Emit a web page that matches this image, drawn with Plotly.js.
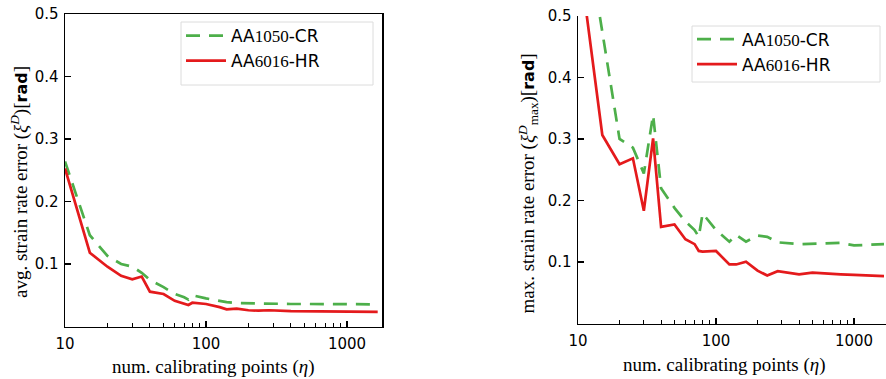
<!DOCTYPE html>
<html>
<head>
<meta charset="utf-8">
<script src="https://cdn.plot.ly/plotly-3.0.1.min.js"></script>
<style>html,body{margin:0;padding:0;background:#fff;}#chart{width:886px;height:379px;}</style>
</head>
<body>
<div id="chart"></div>
<script>
// ---- data ----
const eta = [10, 15, 20, 25, 30, 35, 40, 50, 60, 70, 75, 80, 100, 125, 140, 165, 200, 235, 280, 400, 500, 700, 800, 1000, 1200, 1650];

const avgAA1050 = [0.264, 0.146, 0.113, 0.100, 0.0957, 0.086, 0.0744, 0.063, 0.052, 0.0467, 0.043, 0.050, 0.045, 0.041, 0.039, 0.0375, 0.037, 0.0365, 0.0365, 0.036, 0.036, 0.036, 0.036, 0.0355, 0.0355, 0.0355];
const avgAA6016 = [0.253, 0.118, 0.0957, 0.081, 0.0755, 0.080, 0.0557, 0.052, 0.041, 0.036, 0.0344, 0.038, 0.036, 0.031, 0.0275, 0.0285, 0.026, 0.0253, 0.026, 0.0245, 0.0245, 0.024, 0.024, 0.0238, 0.0237, 0.0235];

const maxAA1050 = [0.72, 0.47, 0.30, 0.286, 0.244, 0.339, 0.22, 0.188, 0.166, 0.152, 0.141, 0.179, 0.152, 0.133, 0.144, 0.133, 0.143, 0.141, 0.132, 0.129, 0.130, 0.131, 0.131, 0.127, 0.128, 0.129];
const maxAA6016 = [0.61, 0.3065, 0.259, 0.2686, 0.1834, 0.301, 0.157, 0.161, 0.137, 0.129, 0.118, 0.117, 0.118, 0.096, 0.096, 0.1005, 0.086, 0.078, 0.085, 0.080, 0.0826, 0.0816, 0.080, 0.079, 0.0785, 0.077];

const seriesNames = ["AA<span style=\"font-family:Liberation Serif\">1050</span>-CR",
                     "AA<span style=\"font-family:Liberation Serif\">6016</span>-HR"];
const xTickVals = [10, 100, 1000];
const xTickText = ["10", "100", "1000"];
const xMinorVals = [20,30,40,50,60,70,80,90,200,300,400,500,600,700,800,900,2000];
const yTickVals = [0.1, 0.2, 0.3, 0.4, 0.5];
const yTickText = ["0.1", "0.2", "0.3", "0.4", "0.5"];

const xTitle = "num. calibrating points (<i>η</i>)";
const yTitleLeft = "avg. strain rate error (<i>ξ</i><sup><i>D</i></sup>)[<span style=\"font-family:DejaVu Sans;font-weight:bold;font-size:16px\">rad</span>]";
const yTitleRight = "max. strain rate error (<i>ξ</i><sup><i>D</i></sup><sub>max</sub>)[<span style=\"font-family:DejaVu Sans;font-weight:bold;font-size:16px\">rad</span>]";

// ---- styling ----
const GREEN = "#4daf4a", RED = "#e41a1c";
const W = 886, H = 379;
const px = v => v / W;           // pixel -> paper x
const py = v => (H - v) / H;     // pixel -> paper y

const greenLine = {color: GREEN, width: 2.7, dash: "14px,9px"};
const redLine = {color: RED, width: 2.7};

const traces = [
  {x: eta, y: avgAA1050, type: "scatter", mode: "lines", name: seriesNames[0], line: greenLine, xaxis: "x", yaxis: "y", legend: "legend"},
  {x: eta, y: avgAA6016, type: "scatter", mode: "lines", name: seriesNames[1], line: redLine, xaxis: "x", yaxis: "y", legend: "legend"},
  {x: eta, y: maxAA1050, type: "scatter", mode: "lines", name: seriesNames[0], line: greenLine, xaxis: "x2", yaxis: "y2", legend: "legend2"},
  {x: eta, y: maxAA6016, type: "scatter", mode: "lines", name: seriesNames[1], line: redLine, xaxis: "x2", yaxis: "y2", legend: "legend2"}
];

const tickFont = {family: "DejaVu Sans", size: 15, color: "#000"};
function xAxis(domain, range, anchor, mirror) {
  return {
    type: "log", domain: domain, range: range, anchor: anchor,
    showline: true, linecolor: "#000", linewidth: 1.5, mirror: mirror,
    showgrid: false, zeroline: false,
    ticks: "inside", ticklen: 6, tickwidth: 1.2, tickcolor: "#000",
    tickmode: "array", tickvals: xTickVals, ticktext: xTickText,
    tickfont: tickFont, ticklabelstandoff: 3,
    minor: {ticks: "inside", ticklen: 3.5, tickwidth: 1, tickcolor: "#000", tickmode: "array", tickvals: xMinorVals, showgrid: false}
  };
}
function yAxis(domain, anchor, mirror) {
  return {
    domain: domain, range: [0, 0.5], anchor: anchor,
    showline: true, linecolor: "#000", linewidth: 1.5, mirror: mirror,
    showgrid: false, zeroline: false,
    ticks: "inside", ticklen: 6, tickwidth: 1.2, tickcolor: "#000",
    tickmode: "array", tickvals: yTickVals, ticktext: yTickText,
    tickfont: tickFont, ticklabelstandoff: 2
  };
}

const legendFont = {family: "DejaVu Sans", size: 17, color: "#000"};
const titleFont = {family: "Liberation Serif", size: 19, color: "#000"};

const layout = {
  width: W, height: H,
  margin: {l: 0, r: 0, t: 0, b: 0, autoexpand: false},
  paper_bgcolor: "#fff", plot_bgcolor: "#fff",
  xaxis: xAxis([px(65), px(382)], [1, 3.248], "y", true),
  yaxis: yAxis([py(326.5), py(14)], "x", true),
  xaxis2: xAxis([px(578), 1], [1, 3.232], "y2", false),
  yaxis2: yAxis([py(323.5), py(16)], "x2", false),
  legend: {x: px(181), y: py(18), xanchor: "left", yanchor: "top", bgcolor: "rgba(0,0,0,0)", borderwidth: 0, font: legendFont, itemwidth: 40},
  legend2: {x: px(692), y: py(21.5), xanchor: "left", yanchor: "top", bgcolor: "rgba(0,0,0,0)", borderwidth: 0, font: legendFont, itemwidth: 40},
  shapes: [
    {type: "rect", xref: "paper", yref: "paper", x0: px(181), x1: px(373), y0: py(85), y1: py(22), line: {color: "#dcdcdc", width: 1}, fillcolor: "rgba(255,255,255,0.8)", layer: "below"},
    {type: "rect", xref: "paper", yref: "paper", x0: px(692), x1: px(880), y0: py(82), y1: py(26), line: {color: "#dcdcdc", width: 1}, fillcolor: "rgba(255,255,255,0.8)", layer: "below"}
  ],
  annotations: [
    {text: yTitleLeft, xref: "paper", yref: "paper", x: px(19), y: py(182), xanchor: "center", yanchor: "middle", textangle: -90, showarrow: false, font: titleFont},
    {text: yTitleRight, xref: "paper", yref: "paper", x: px(528), y: py(183.5), xanchor: "center", yanchor: "middle", textangle: -90, showarrow: false, font: titleFont},
    {text: xTitle, xref: "paper", yref: "paper", x: px(213.5), y: py(367), xanchor: "center", yanchor: "middle", showarrow: false, font: titleFont},
    {text: xTitle, xref: "paper", yref: "paper", x: px(724), y: py(365), xanchor: "center", yanchor: "middle", showarrow: false, font: titleFont}
  ]
};

Plotly.newPlot("chart", traces, layout, {staticPlot: true, displayModeBar: false});
</script>
</body>
</html>
